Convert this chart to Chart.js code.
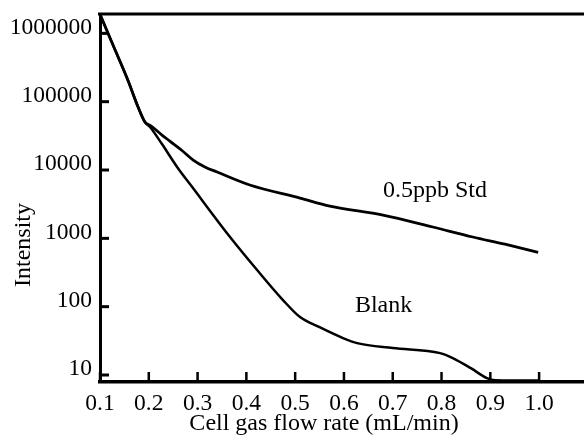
<!DOCTYPE html>
<html>
<head>
<meta charset="utf-8">
<script src="https://cdn.jsdelivr.net/npm/chart.js@4.4.0/dist/chart.umd.min.js"></script>
<style>
html,body{margin:0;padding:0;background:#fff;}
#grafico{display:block;}
</style>
</head>
<body>
<canvas id="grafico" width="584" height="436"></canvas>
<script>
// valores
const stdFlow = [0.1, 0.131, 0.157, 0.178, 0.192, 0.205, 0.227, 0.243, 0.268, 0.291, 0.315, 0.34, 0.407, 0.51, 0.571, 0.68, 0.782, 0.864, 0.93, 0.998]
const stdIntensity = [1900000, 571000, 208000, 83600, 50500, 44000, 32500, 26500, 19300, 14000, 11100, 9350, 6040, 3890, 2970, 2190, 1465, 1046, 820, 625]

const blankFlow = [0.1, 0.131, 0.157, 0.178, 0.192, 0.2025, 0.227, 0.258, 0.289, 0.36, 0.422, 0.475, 0.51, 0.55, 0.598, 0.627, 0.7, 0.797, 0.823, 0.86, 0.893, 0.91, 1.0]
const blankIntensity = [1900000, 571000, 208000, 83600, 50500, 42600, 24000, 11100, 5630, 1200, 344, 125, 70.4, 50, 34.7, 29.3, 24.8, 20.9, 17.7, 12.6, 9.0, 8.4, 8.3]

const xTicks = [0.1, 0.2, 0.3, 0.4, 0.5, 0.6, 0.7, 0.8, 0.9, 1.0]
const yTicks = [10, 100, 1000, 10000, 100000, 1000000]

const fonte = '"Liberation Serif", "Times New Roman", serif'

function pontos(xs, ys){
    return xs.map((v, i) => ({x: v, y: ys[i]}))
}

const moldura = {
    id: 'moldura',
    afterDraw(chart){
        const {ctx, chartArea: a, scales: {x, y}} = chart
        ctx.save()
        ctx.strokeStyle = '#000'
        ctx.lineWidth = 3
        ctx.beginPath()
        ctx.moveTo(a.left - 2, a.top)
        ctx.lineTo(a.right, a.top)
        ctx.stroke()
        yTicks.forEach(v => {
            const py = y.getPixelForValue(v)
            ctx.beginPath()
            ctx.moveTo(a.left, py)
            ctx.lineTo(a.left + 9, py)
            ctx.stroke()
        })
        ctx.lineWidth = 2.5
        xTicks.forEach(v => {
            const px = x.getPixelForValue(v)
            ctx.beginPath()
            ctx.moveTo(px, a.bottom)
            ctx.lineTo(px, a.bottom - 10)
            ctx.stroke()
        })
        ctx.fillStyle = '#000'
        ctx.font = '24px ' + fonte
        ctx.textBaseline = 'alphabetic'
        ctx.textAlign = 'center'
        ctx.fillText('Cell gas flow rate (mL/min)', 324, 430)
        ctx.save()
        ctx.translate(30, 245)
        ctx.rotate(-Math.PI / 2)
        ctx.fillText('Intensity', 0, 0)
        ctx.restore()
        ctx.textAlign = 'left'
        ctx.fillText('0.5ppb Std', x.getPixelForValue(0.68), y.getPixelForValue(4030))
        ctx.fillText('Blank', x.getPixelForValue(0.6225), y.getPixelForValue(83))
        ctx.restore()
    }
}

new Chart(document.getElementById('grafico'), {
    type: 'line',
    data: {
        datasets: [
            {
                label: '0.5ppb Std',
                data: pontos(stdFlow, stdIntensity),
                borderColor: '#000',
                borderWidth: 2.8,
                pointRadius: 0,
                cubicInterpolationMode: 'monotone'
            },
            {
                label: 'Blank',
                data: pontos(blankFlow, blankIntensity),
                borderColor: '#000',
                borderWidth: 2.5,
                pointRadius: 0,
                cubicInterpolationMode: 'monotone'
            }
        ]
    },
    options: {
        responsive: false,
        animation: false,
        devicePixelRatio: 1,
        layout: {
            padding: {top: 14, right: 0, left: 0, bottom: 0}
        },
        plugins: {
            legend: {display: false},
            tooltip: {enabled: false}
        },
        scales: {
            x: {
                type: 'linear',
                min: 0.1,
                max: 1.092,
                afterBuildTicks: scale => { scale.ticks = xTicks.map(v => ({value: v})) },
                afterFit: scale => {
                    scale.height = 54
                    scale.paddingLeft = 0
                    scale.paddingRight = 0
                },
                grid: {drawOnChartArea: false, drawTicks: false},
                border: {display: true, color: '#000', width: 3.5},
                ticks: {
                    color: '#000',
                    font: {family: fonte, size: 23.5},
                    padding: 8,
                    maxRotation: 0,
                    autoSkip: false,
                    callback: v => Number(v).toFixed(1)
                }
            },
            y: {
                type: 'logarithmic',
                min: 7.9,
                max: 1920000,
                afterBuildTicks: scale => { scale.ticks = yTicks.map(v => ({value: v})) },
                afterFit: scale => {
                    scale.width = 100
                    scale.paddingTop = 0
                    scale.paddingBottom = 0
                },
                grid: {drawOnChartArea: false, drawTicks: false},
                border: {display: true, color: '#000', width: 3},
                ticks: {
                    color: '#000',
                    font: {family: fonte, size: 23.5},
                    padding: 8,
                    labelOffset: -6,
                    autoSkip: false,
                    callback: v => String(v)
                }
            }
        }
    },
    plugins: [moldura]
})
</script>
</body>
</html>
